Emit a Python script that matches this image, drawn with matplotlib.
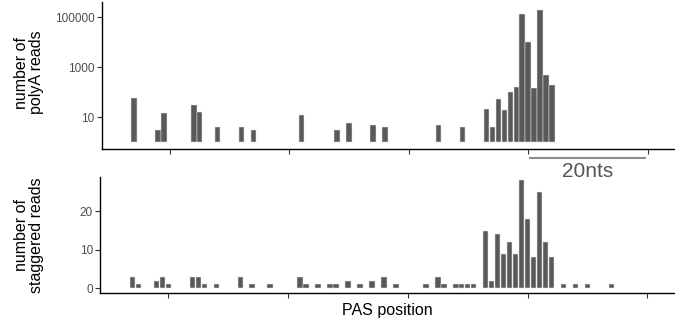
import matplotlib
matplotlib.use('Agg')
import matplotlib.pyplot as plt

plt.rcParams['font.family'] = ['Liberation Sans', 'DejaVu Sans']

# PAS positions (nt, relative) and read counts
polya_pos = [-6, -2, -1, 4, 5, 8, 12, 14, 22, 28, 30, 34, 36, 45, 49,
             53, 54, 55, 56, 57, 58, 59, 60, 61, 62, 63, 64]
polya_reads = [57, 2, 14, 31, 15, 3, 3, 2, 11, 2, 5, 4, 3, 4, 3,
               20, 3, 54, 18, 100, 158, 132000, 10000, 145, 190000, 505, 200]

stag_pos = [-6, -5, -2, -1, 0, 4, 5, 6, 8, 12, 14, 17, 22, 23, 25, 27, 28,
            30, 32, 34, 36, 38, 43, 45, 46, 48, 49, 50, 51,
            53, 54, 55, 56, 57, 58, 59, 60, 61, 62, 63, 64, 66, 68, 70, 74]
stag_reads = [3, 1, 2, 3, 1, 3, 3, 1, 1, 3, 1, 1, 3, 1, 1, 1, 1,
              2, 1, 2, 3, 1, 1, 3, 1, 1, 1, 1, 1,
              15, 2, 14, 9, 12, 9, 28, 18, 8, 25, 12, 8, 1, 1, 1, 1]

xticks = [0, 20, 40, 60, 80]
bar_color = '#595959'
tick_grey = '#4d4d4d'

fig = plt.figure(figsize=(6.75, 3.2), dpi=100)
ax1 = fig.add_axes([0.1507, 0.5344, 0.8493, 0.4594])
ax2 = fig.add_axes([0.148, 0.0844, 0.852, 0.3625])

# top: polyA reads, log scale
ax1.bar(polya_pos, polya_reads, width=0.9, bottom=1, color=bar_color,
        edgecolor='#e6e6e6', linewidth=0.35)
ax1.set_yscale('log')
ax1.set_ylim(10 ** -0.27, 10 ** 5.61)
ax1.set_yticks([10, 1000, 100000])
ax1.set_yticklabels(['10', '1000', '100000'])
ax1.minorticks_off()
ax1.set_ylabel('number of\npolyA reads', fontsize=11.5, linespacing=1.05)
ax1.yaxis.set_label_coords(-0.1, 0.52)

# bottom: staggered reads
ax2.bar(stag_pos, stag_reads, width=0.9, color=bar_color,
        edgecolor='#e6e6e6', linewidth=0.35)
ax2.set_ylim(-1.22, 28.9)
ax2.set_yticks([0, 10, 20])
ax2.set_ylabel('number of\nstaggered reads', fontsize=11.5, linespacing=1.05)
ax2.yaxis.set_label_coords(-0.097, 0.5)
ax2.set_xlabel('PAS position', fontsize=11.5, labelpad=2)

for ax in (ax1, ax2):
    ax.set_xlim(-11.43, 84.6)
    ax.set_xticks(xticks)
    ax.set_xticklabels([])
    for s in ('top', 'right'):
        ax.spines[s].set_visible(False)
    for s in ('left', 'bottom'):
        ax.spines[s].set_linewidth(1.0)
        ax.spines[s].set_color('black')
    ax.tick_params(axis='both', length=3.5, width=0.8, color='#333333',
                   labelsize=8.5, labelcolor=tick_grey, pad=1.5)

# 20 nt scale bar between the panels
trans = ax1.get_xaxis_transform()
ax1.plot([60.3, 79.6], [-0.063, -0.063], transform=trans, color='#8c8c8c',
         linewidth=1.5, clip_on=False)
ax1.text(70, -0.09, '20nts', transform=trans, ha='center', va='top',
         fontsize=15, color='#555555')

plt.savefig('out.png', dpi=100)
